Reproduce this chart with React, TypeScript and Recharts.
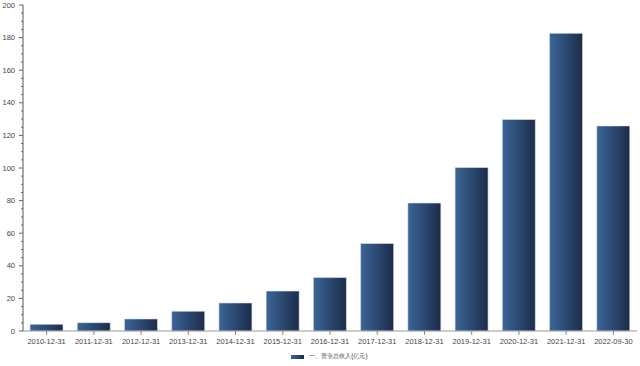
import { BarChart, Bar, XAxis, YAxis, Legend } from "recharts";

const categories = [
  "2010-12-31",
  "2011-12-31",
  "2012-12-31",
  "2013-12-31",
  "2014-12-31",
  "2015-12-31",
  "2016-12-31",
  "2017-12-31",
  "2018-12-31",
  "2019-12-31",
  "2020-12-31",
  "2021-12-31",
  "2022-09-30",
];

const revenue = [4.1, 5.1, 7.4, 12.1, 17.2, 24.5, 32.8, 53.7, 78.5, 100.3, 129.8, 182.6, 125.8];

const yTicks = Array.from({ length: 41 }, (_, i) => i * 5);

const SERIES_NAME = "一、营业总收入(亿元)";

const data = categories.map((date, i) => ({ date, value: revenue[i] }));

const FONT = '"Liberation Sans", Arial, sans-serif';

// y ticks: long tick + label every 20, short tick every 5
const YTick = (props: any) => {
  const { x, y, payload } = props;
  const v = payload.value as number;
  const major = v % 20 === 0;
  return (
    <g>
      <line x1={x - (major ? 4 : 2)} y1={y} x2={x} y2={y} stroke="#666" strokeWidth={1} />
      {major && (
        <text
          x={x - 8}
          y={y}
          textAnchor="end"
          dominantBaseline="central"
          fontSize={7.5}
          fill="#444"
          fontFamily={FONT}
        >
          {v}
        </text>
      )}
    </g>
  );
};

const XTick = (props: any) => {
  const { x, y, payload } = props;
  return (
    <g>
      <line x1={x} y1={y} x2={x} y2={y + 4} stroke="#888" strokeWidth={1} />
      <text
        x={x}
        y={y + 13}
        textAnchor="middle"
        fontSize={7.5}
        fill="#444"
        fontFamily={FONT}
      >
        {payload.value}
      </text>
    </g>
  );
};

const LegendContent = () => (
  <div
    style={{
      display: "flex",
      justifyContent: "center",
      alignItems: "center",
      height: 19,
      paddingLeft: 22,
      fontFamily: FONT,
      fontSize: 6.4,
      color: "#444",
    }}
  >
    <svg width={13} height={4} style={{ marginRight: 5 }}>
      <rect x={0} y={0} width={13} height={4} fill="url(#legendGrad)" />
      <defs>
        <linearGradient id="legendGrad" x1="0" y1="0" x2="1" y2="0">
          <stop offset="0%" stopColor="#3b6597" />
          <stop offset="100%" stopColor="#1c2c4a" />
        </linearGradient>
      </defs>
    </svg>
    <span>{SERIES_NAME}</span>
  </div>
);

export default function App() {
  return (
    <div style={{ position: "absolute", left: 0, top: 0, background: "#fff" }}>
      <BarChart
        width={640}
        height={366}
        data={data}
        margin={{ top: 5, right: 3, left: 0, bottom: 0 }}
      >
        <defs>
          <linearGradient id="barGrad" x1="0" y1="0" x2="1" y2="0">
            <stop offset="0%" stopColor="#3b6597" />
            <stop offset="100%" stopColor="#1c2c4a" />
          </linearGradient>
        </defs>
        <XAxis
          dataKey="date"
          interval={0}
          height={16}
          tickLine={false}
          tickSize={0}
          tickMargin={0}
          axisLine={{ stroke: "#999" }}
          tick={<XTick />}
        />
        <YAxis
          width={23}
          domain={[0, 200]}
          ticks={yTicks}
          interval={0}
          tickLine={false}
          tickSize={0}
          tickMargin={0}
          axisLine={{ stroke: "#555" }}
          tick={<YTick />}
        />
        <Legend verticalAlign="bottom" height={19} content={<LegendContent />} />
        <Bar
          dataKey="value"
          name={SERIES_NAME}
          fill="url(#barGrad)"
          stroke="#dde3ec"
          strokeWidth={0.6}
          barSize={33}
          isAnimationActive={false}
        />
      </BarChart>
    </div>
  );
}
